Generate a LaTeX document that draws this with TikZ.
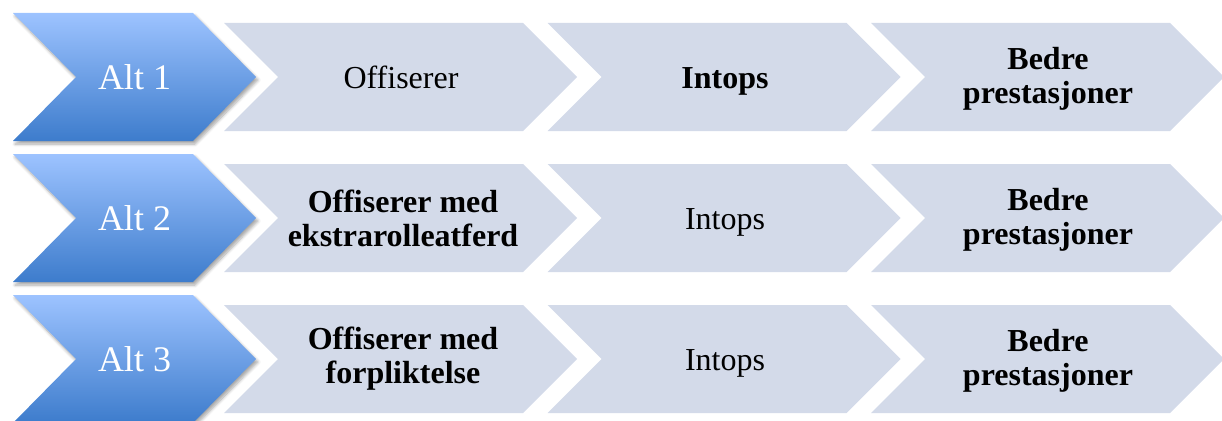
\documentclass[tikz,border=0pt]{standalone}
\usepackage{fontspec}
\setmainfont{Liberation Serif}
\usetikzlibrary{shadows.blur}
\definecolor{bluetop}{HTML}{9DC3FF}
\definecolor{bluebot}{HTML}{3D7CCC}
\definecolor{paleblue}{HTML}{D3DAE9}
\tikzset{
  altbox/.style={top color=bluetop, bottom color=bluebot, draw=none,
    blur shadow={shadow xshift=2pt, shadow yshift=-3pt, shadow blur radius=3pt, shadow blur steps=6, shadow opacity=35}},
  palebox/.style={fill=paleblue, draw=none},
  alttext/.style={text=white, font=\fontsize{36}{40}\selectfont, inner sep=0pt, anchor=base},
  steptext/.style={text=black, font=\fontsize{32}{34}\selectfont, align=center, inner sep=0pt},
  boldtext/.style={steptext, font=\fontsize{32}{34}\selectfont\bfseries},
  oneline/.style={anchor=base},
}
\begin{document}
\begin{tikzpicture}[x=1pt, y=-1pt]
\useasboundingbox (0,0) rectangle (1222,420);
% rows: centres 77, 218, 359
\foreach \c/\n in {77/1, 218/2, 359/3}{
  \path[altbox] (13,\c-64) -- (193,\c-64) -- (256,\c) -- (193,\c+64) -- (13,\c+64) -- (76,\c) -- cycle;
  \foreach \k in {0,1,2}{
    \pgfmathsetmacro{\L}{224+323.5*\k}
    \path[palebox] (\L,\c-54) -- (\L+299,\c-54) -- (\L+353,\c) -- (\L+299,\c+54) -- (\L,\c+54) -- (\L+54,\c) -- cycle;
  }
  \node[alttext] (alt\n) at (134.5,\c+12) {Alt \n};
}
% row 1
\node[steptext, oneline] (a1) at (401,88) {Offiserer};
\node[boldtext, oneline] (b1) at (725,88) {Intops};
\node[boldtext] (c1) at (1048,79) {Bedre\\prestasjoner};
% row 2
\node[boldtext] (a2) at (403,218) {Offiserer med\\ekstrarolleatferd};
\node[steptext, oneline] (b2) at (725,229) {Intops};
\node[boldtext] (c2) at (1048,220) {Bedre\\prestasjoner};
% row 3
\node[boldtext] (a3) at (403,359) {Offiserer med\\forpliktelse};
\node[steptext, oneline] (b3) at (725,370) {Intops};
\node[boldtext] (c3) at (1048,361) {Bedre\\prestasjoner};
\end{tikzpicture}
\end{document}
